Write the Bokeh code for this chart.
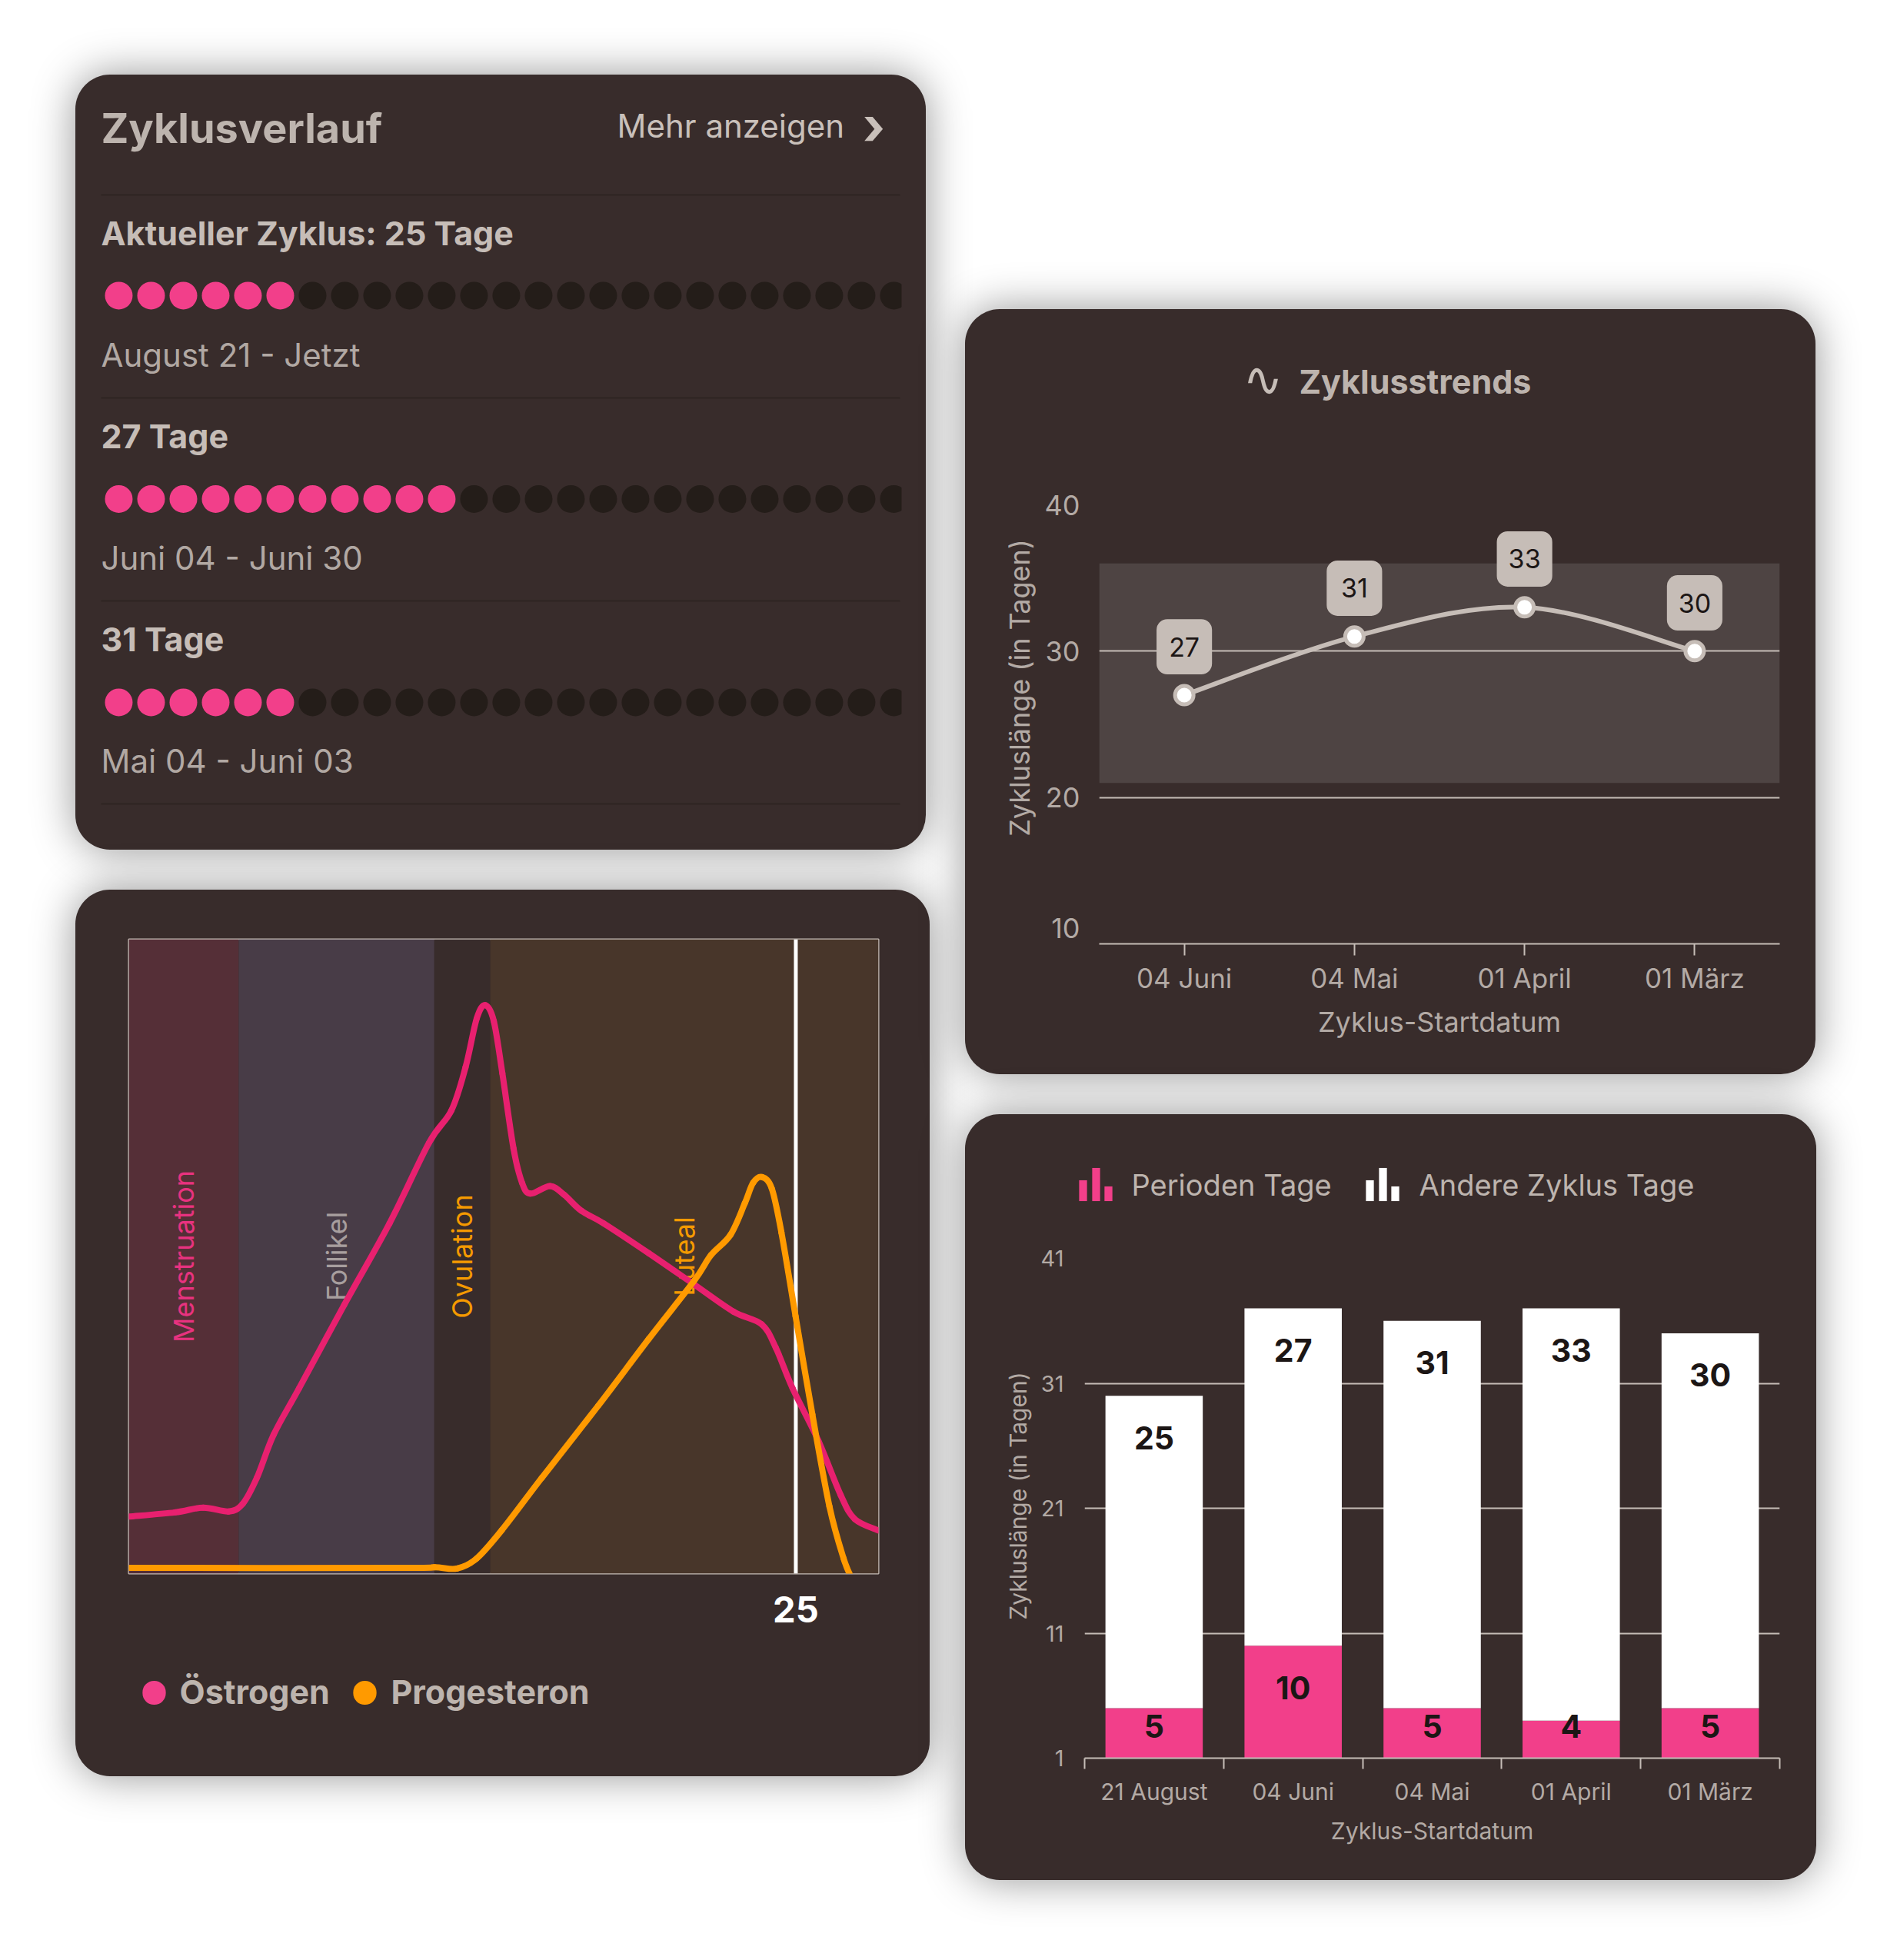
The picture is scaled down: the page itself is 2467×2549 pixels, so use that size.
from math import pi
from bokeh.plotting import figure
from bokeh.layouts import row, column
from bokeh.models import Range1d, BoxAnnotation, Label, FixedTicker
from bokeh.core.properties import value
from bokeh.embed import file_html
from bokeh.resources import INLINE

# ---------- data ----------
cycle_titles = ["Aktueller Zyklus: 25 Tage", "27 Tage", "31 Tage"]
cycle_dates = ["August 21 - Jetzt", "Juni 04 - Juni 30", "Mai 04 - Juni 03"]
cycle_days = [25, 27, 31]
pink_days = [6, 11, 6]

phase_names = ["Menstruation", "Follikel", "Ovulation", "Luteal"]
phase_start = [0, 4.12, 11.45, 13.55]
phase_end = [4.12, 11.45, 13.55, 28.1]
phase_fill = ["#552f37", "#483c47", "#382c2b", "#48362a"]
phase_text = ["#e8327f", "#a79e9e", "#f59a00", "#f59a00"]

estrogen_day = [0.04, 1.73, 2.79, 3.74, 4.27, 4.80, 5.43, 6.38, 8.08, 9.77, 11.25, 12.09, 12.62, 13.04, 13.36, 13.68,
                14.0, 14.42, 14.74, 15.05, 15.79, 16.32, 16.96, 17.8, 19.49, 21.18, 22.66, 23.72, 24.25, 24.88, 25.84,
                26.68, 27.21, 28.1]
estrogen_val = [9.0, 9.65, 10.4, 9.8, 11.0, 15.1, 21.9, 29.2, 42.4, 55.2, 67.9, 73.0, 79.8, 87.5, 89.6, 87.1,
                78.9, 67.0, 61.6, 59.9, 61.1, 59.7, 57.2, 55.2, 50.5, 45.6, 41.3, 39.3, 35.6, 29.2, 21.0,
                12.4, 8.6, 6.8]
progesterone_day = [0.04, 10.2, 11.46, 12.3, 13.04, 13.99, 15.48, 17.6, 19.49, 21.18, 21.82, 22.55, 23.09, 23.4,
                    23.74, 24.1, 24.46, 24.99, 25.62, 26.26, 26.79, 27.1]
progesterone_val = [0.9, 0.9, 1.0, 0.8, 2.4, 6.9, 15.1, 26.5, 37, 46.1, 50.2, 53.4, 58.4, 61.6, 62.5, 60.7, 53.8,
                    40.6, 25.1, 10.6, 2.4, -0.8]
current_day = 25

trend_dates = ["04 Juni", "04 Mai", "01 April", "01 März"]
trend_values = [27, 31, 33, 30]
normal_low, normal_high = 21, 36

bar_dates = ["21 August", "04 Juni", "04 Mai", "01 April", "01 März"]
period_days = [5, 10, 5, 4, 5]
other_days = [25, 27, 31, 33, 30]

# ---------- style ----------
CARD = "#382c2b"
LIGHT = "#c6bdb7"
TXT = "#bdb4ae"
AXIS = "#b3aaa5"
FONT = "Inter"
PINK = "#f23f8a"
ORANGE = "#ff9a00"

ORIGIN = {}


def new(box_, frame, xr, yr, margin):
    l, r, t, b = box_
    fl, fr, ft, fb = frame
    p = figure(width=r - l, height=b - t, x_range=xr, y_range=yr, output_backend="svg", toolbar_location=None,
               min_border_left=fl - l, min_border_right=r - fr, min_border_top=ft - t, min_border_bottom=b - fb,
               border_fill_color=None, background_fill_color=None, outline_line_color=None, frame_align=False,
               margin=margin,
               styles={"background-color": CARD, "border-radius": "45px",
                       "box-shadow": "0 0 55px rgba(0,0,0,0.42)"})
    ORIGIN[p.id] = (l, t)
    return p


def box(p, l, r, t, b, color):
    ox, oy = ORIGIN[p.id]
    p.add_layout(BoxAnnotation(left=l - ox, right=r - ox, top=t - oy, bottom=b - oy, left_units="canvas",
                               right_units="canvas", top_units="canvas", bottom_units="canvas", fill_color=color,
                               fill_alpha=1, line_color=None, level="image"))


def txt(p, x, y, s, size, color=TXT, bold=False, align="left", base="middle", font=FONT, side=None, angle=0):
    ox, oy = ORIGIN[p.id]
    m = Label(x=x - ox, y=y - oy, x_units="canvas", y_units="canvas", text=s, text_font=font,
              text_font_size=f"{size}px", text_color=color, text_font_style="bold" if bold else "normal",
              text_align=align, text_baseline=base, angle=angle)
    if side:
        p.add_layout(m, side)
    else:
        p.add_layout(m)


def swatch(p, x, y, w, h, color, radius, side):
    """Filled shape outside the frame: an empty label with a background, centred on (x, y)."""
    ox, oy = ORIGIN[p.id]
    m = Label(x=x - ox, y=y - oy, x_units="canvas", y_units="canvas", text="\u00a0", text_font_size="1px",
              text_align="center", text_baseline="middle", padding=(w // 2, w // 2, h // 2, h // 2),
              background_fill_color=color, border_radius=radius)
    p.add_layout(m, side)


def smooth(p, xs, ys, color, width):
    n = len(xs)
    x0, y0, x1, y1, cx0, cy0, cx1, cy1 = [], [], [], [], [], [], [], []
    for i in range(n - 1):
        a, b = max(i - 1, 0), min(i + 2, n - 1)
        x0.append(xs[i]); y0.append(ys[i]); x1.append(xs[i + 1]); y1.append(ys[i + 1])
        cx0.append(xs[i] + (xs[i + 1] - xs[a]) / 6); cy0.append(ys[i] + (ys[i + 1] - ys[a]) / 6)
        cx1.append(xs[i + 1] - (xs[b] - xs[i]) / 6); cy1.append(ys[i + 1] - (ys[b] - ys[i]) / 6)
    p.bezier(x0=x0, y0=y0, x1=x1, y1=y1, cx0=cx0, cy0=cy0, cx1=cx1, cy1=cy1, line_color=color, line_width=width,
             line_cap="round")


def style_axis(ax, size, color):
    ax.major_label_text_font = FONT
    ax.major_label_text_font_size = f"{size}px"
    ax.major_label_text_color = color
    ax.axis_label_text_font = FONT
    ax.axis_label_text_font_style = "normal"
    ax.axis_label_text_color = color


# ---------- card 1: Zyklusverlauf ----------
p1 = new((98, 1204, 97, 1105), (125, 1172, 120, 1100), Range1d(-0.69, 24.24), Range1d(2.707, -0.998),
         (97, 0, 0, 98))
p1.axis.visible = False
p1.grid.visible = False
txt(p1, 131, 166, "Zyklusverlauf", 54, TXT, True)
txt(p1, 802, 163, "Mehr anzeigen", 42, "#c9c0ba")
txt(p1, 1136, 162, "\u203a", 68, "#c9c0ba", True, "center")
for y in [253, 517, 781, 1045]:
    box(p1, 131, 1170, y - 1, y + 1, "#2e2423")
for r, (t, d) in enumerate(zip(cycle_titles, cycle_dates)):
    txt(p1, 131, 302 + 264 * r, t, 43, LIGHT, True)
    txt(p1, 131, 461 + 264 * r, d, 42, "#b1a8a3")
for r, (n, k) in enumerate(zip(cycle_days, pink_days)):
    days = list(range(n))
    p1.scatter(x=days, y=[r] * n, size=36, marker="circle", line_color=None,
               fill_color=[PINK if i < k else "#241d19" for i in days])

# ---------- card 2: hormones ----------
p2 = new((98, 1209, 1157, 2310), (167, 1142, 1221, 2046), Range1d(0, 28.1), Range1d(0, 100), (52, 0, 0, 98))
p2.yaxis.visible = False
p2.grid.visible = False
p2.outline_line_color = LIGHT
p2.outline_line_width = 2
p2.quad(left=phase_start, right=phase_end, bottom=0, top=100, fill_color=phase_fill, line_color=None)
centers = [(a + b) / 2 for a, b in zip(phase_start, phase_end)]
p2.text(x=centers, y=[50] * 4, text=phase_names, angle=pi / 2, text_align="center", text_baseline="middle",
        text_font=value(FONT), text_font_size="36px", text_color=phase_text)
p2.segment(x0=[current_day], x1=[current_day], y0=[0], y1=[100], line_color="white", line_width=5)
smooth(p2, estrogen_day, estrogen_val, "#e8206f", 8)
smooth(p2, progesterone_day, progesterone_val, ORANGE, 8)
ax = p2.xaxis[0]
ax.ticker = FixedTicker(ticks=[current_day])
ax.axis_line_color = None
ax.major_tick_line_color = None
ax.minor_tick_line_color = None
style_axis(ax, 47, "white")
ax.major_label_text_font_style = "bold"
ax.major_label_standoff = 23
swatch(p2, 200, 2201, 30, 30, PINK, 15, "below")
txt(p2, 233, 2199, "Östrogen", 43, TXT, True, side="below")
swatch(p2, 474, 2201, 30, 30, ORANGE, 15, "below")
txt(p2, 508, 2199, "Progesteron", 43, TXT, True, side="below")

# ---------- card 3: Zyklustrends ----------
p3 = new((1255, 2361, 402, 1397), (1429, 2314, 656, 1227), Range1d(0, 4), Range1d(10, 40), (402, 0, 0, 46))
p3.add_layout(BoxAnnotation(left=0, right=4, top=normal_high, bottom=normal_low, fill_color="#4e4443", fill_alpha=1,
                            line_color=None, level="image"))
p3.xgrid.visible = False
p3.ygrid.ticker = FixedTicker(ticks=[20, 30, 40])
p3.ygrid.grid_line_color = LIGHT
p3.ygrid.grid_line_width = 2
xs = [i + 0.5 for i in range(4)]
ay = p3.yaxis[0]
ay.ticker = FixedTicker(ticks=[20, 30, 40])
ay.axis_line_color = None
ay.major_tick_line_color = None
ay.minor_tick_line_color = None
style_axis(ay, 36, AXIS)
ay.major_label_standoff = 19
ax = p3.xaxis[0]
ax.ticker = FixedTicker(ticks=xs)
ax.major_label_overrides = {x: s for x, s in zip(xs, trend_dates)}
ax.axis_line_color = LIGHT
ax.axis_line_width = 2
ax.major_tick_line_color = LIGHT
ax.major_tick_line_width = 2
ax.major_tick_in = 0
ax.major_tick_out = 15
ax.minor_tick_line_color = None
style_axis(ax, 35, AXIS)
ax.major_label_standoff = 8
ax.axis_label = "Zyklus-Startdatum"
ax.axis_label_text_font_size = "36px"
ax.axis_label_standoff = 11
txt(p3, 1404, 1206, "10", 36, AXIS, False, "right", side="above")
txt(p3, 1325, 894, "Zykluslänge (in Tagen)", 36, AXIS, False, "center", side="left", angle=pi / 2)
txt(p3, 1642, 493, "\u223f", 62, LIGHT, False, "center", font="DejaVu Sans", side="above")
txt(p3, 1689, 495, "Zyklusstrends", 43, TXT, True, side="above")
smooth(p3, xs, trend_values, LIGHT, 6)
p3.scatter(x=xs, y=trend_values, size=24, marker="circle", fill_color="white", line_color=LIGHT, line_width=5)
p3.vbar(x=xs, width=0.326, bottom=[v + 1.41 for v in trend_values], top=[v + 5.19 for v in trend_values],
        fill_color=LIGHT, line_color=None, border_radius=14)
p3.text(x=xs, y=[v + 3.3 for v in trend_values], text=[str(v) for v in trend_values], text_align="center",
        text_baseline="middle", text_font=value(FONT), text_font_size="34px", text_color="#1c1615")

# ---------- card 4: stacked bars ----------
p4 = new((1255, 2362, 1449, 2445), (1410, 2314, 1636, 2286), Range1d(0, 5), Range1d(1, 41), (52, 0, 0, 46))
xs = [i + 0.5 for i in range(5)]
tops = [a + b for a, b in zip(period_days, other_days)]
p4.vbar(x=xs, width=0.7, bottom=0, top=period_days, fill_color=PINK, line_color=None)
p4.vbar(x=xs, width=0.7, bottom=period_days, top=tops, fill_color="white", line_color=None)
p4.text(x=xs, y=[t - 3.35 for t in tops], text=[str(v) for v in other_days], text_align="center",
        text_baseline="middle", text_font=value(FONT), text_font_style="bold", text_font_size="41px",
        text_color="#1c1615")
p4.text(x=xs, y=[max(v - 3.35, 3.54) for v in period_days], text=[str(v) for v in period_days], text_align="center",
        text_baseline="middle", text_font=value(FONT), text_font_style="bold", text_font_size="41px",
        text_color="#1c1615")
p4.xgrid.visible = False
p4.ygrid.ticker = FixedTicker(ticks=[1, 11, 21, 31, 41])
p4.ygrid.grid_line_color = LIGHT
p4.ygrid.grid_line_width = 2
ay = p4.yaxis[0]
ay.ticker = FixedTicker(ticks=[1, 11, 21, 31, 41])
ay.axis_line_color = None
ay.major_tick_line_color = None
ay.minor_tick_line_color = None
style_axis(ay, 29, AXIS)
ay.major_label_standoff = 21
ax = p4.xaxis[0]
ax.ticker = FixedTicker(ticks=xs, minor_ticks=[0, 1, 2, 3, 4, 5])
ax.major_label_overrides = {x: s for x, s in zip(xs, bar_dates)}
ax.axis_line_color = LIGHT
ax.axis_line_width = 2
ax.major_tick_line_color = None
ax.major_tick_in = 0
ax.major_tick_out = 14
ax.minor_tick_line_color = LIGHT
ax.minor_tick_line_width = 2
ax.minor_tick_in = 0
ax.minor_tick_out = 14
style_axis(ax, 30, AXIS)
ax.major_label_standoff = 11
ax.axis_label = "Zyklus-Startdatum"
ax.axis_label_text_font_size = "30px"
ax.axis_label_standoff = 12
txt(p4, 1323, 1945, "Zykluslänge (in Tagen)", 30, AXIS, False, "center", side="left", angle=pi / 2)
# legend icons: three little bars each (spread over the side panels so that they leave the frame in place)
for x0, col in [(1403, PINK), (1776, "white")]:
    swatch(p4, x0 + 5, 1548, 10, 26, col, 0, "above")
    swatch(p4, x0 + 22, 1540, 10, 42, col, 0, "left")
    swatch(p4, x0 + 38, 1552, 10, 18, col, 0, "below")
txt(p4, 1471, 1540, "Perioden Tage", 38, TXT, side="above")
txt(p4, 1845, 1540, "Andere Zyklus Tage", 38, TXT, side="above")

layout = row(column(p1, p2, spacing=0), column(p3, p4, spacing=0), spacing=0)
open("out.html", "w").write(file_html(layout, INLINE))
